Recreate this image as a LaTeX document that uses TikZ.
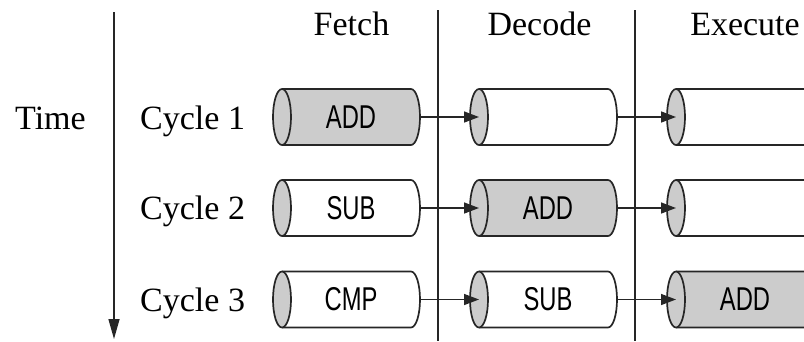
\documentclass[tikz,border=0pt]{standalone}
\usepackage{fontspec}
\setmainfont{Liberation Serif}
\newfontfamily\condsans[FakeStretch=0.72]{Liberation Sans}
\usetikzlibrary{arrows.meta}
\definecolor{capgray}{HTML}{CCCCCC}
\definecolor{bodygray}{HTML}{CCCCCC}
\definecolor{ink}{HTML}{262626}
\tikzset{
  outline/.style={line width=1.7pt, draw=ink},
  divider/.style={line width=1.5pt, draw=ink},
  conn/.style={line width=1.5pt, draw=ink, -{Triangle[length=15pt,width=11pt]}},
  timearrow/.style={line width=1.5pt, draw=ink, -{Triangle[length=20pt,width=11pt]}},
  lab/.style={font=\fontsize{34}{40}\selectfont, inner sep=0pt, text=black},
  cyltext/.style={font=\condsans\fontsize{33}{36}\selectfont, inner sep=0pt,
    minimum width=138pt, minimum height=56pt, text=black}
}
\newcommand{\pipecyl}[5]{%
  \begin{scope}[shift={(#2,#3)}]
    \fill[#4] (0,-28) -- (129,-28) arc[start angle=-90,end angle=90,x radius=9,y radius=28] -- (0,28) -- cycle;
    \draw[outline] (0,-28) -- (129,-28) arc[start angle=-90,end angle=90,x radius=9,y radius=28] -- (0,28);
    \filldraw[outline, fill=capgray] (0,0) ellipse [x radius=9, y radius=28];
    \node[cyltext] (#1) at (69,0) {#5};
    \coordinate (#1in) at (0,0);
  \end{scope}}
\begin{document}
\begin{tikzpicture}[x=1pt,y=-1pt]
  \useasboundingbox (0,0) rectangle (804,341);
  \clip (0,0) rectangle (804,341);
  \fill[white] (0,0) rectangle (804,341);
  % dividers
  \coordinate (dv1t) at (438,10); \coordinate (dv1b) at (438,341);
  \coordinate (dv2t) at (635,10); \coordinate (dv2b) at (635,341);
  \draw[divider] (dv1t) -- (dv1b);
  \draw[divider] (dv2t) -- (dv2b);
  % time arrow
  \coordinate (ts) at (114,12); \coordinate (te) at (114,339);
  \draw[timearrow] (ts) -- (te);
  % headers
  \node[lab, anchor=base] (hf) at (351.5,35) {Fetch};
  \node[lab, anchor=base] (hd) at (539.5,35) {Decode};
  \node[lab, anchor=base] (he) at (745,35) {Execute};
  % labels
  \node[lab, anchor=base west] (time) at (15,129) {Time};
  \node[lab, anchor=base west] (c1) at (140,129) {Cycle 1};
  \node[lab, anchor=base west] (c2) at (140,219.5) {Cycle 2};
  \node[lab, anchor=base west] (c3) at (140,311) {Cycle 3};
  % cylinders
  \pipecyl{fa}{282}{117}{bodygray}{ADD}
  \pipecyl{da}{479}{117}{white}{}
  \pipecyl{ea}{676}{117}{white}{}
  \pipecyl{fb}{282}{208}{white}{SUB}
  \pipecyl{db}{479}{208}{bodygray}{ADD}
  \pipecyl{eb}{676}{208}{white}{}
  \pipecyl{fc}{282}{299.5}{white}{CMP}
  \pipecyl{dc}{479}{299.5}{white}{SUB}
  \pipecyl{ec}{676}{299.5}{bodygray}{ADD}
  % connectors
  \draw[conn] (fa.east) -- (dain);
  \draw[conn] (da.east) -- (eain);
  \draw[conn] (fb.east) -- (dbin);
  \draw[conn] (db.east) -- (ebin);
  \draw[conn] (fc.east) -- (dcin);
  \draw[conn] (dc.east) -- (ecin);
\end{tikzpicture}
\end{document}
